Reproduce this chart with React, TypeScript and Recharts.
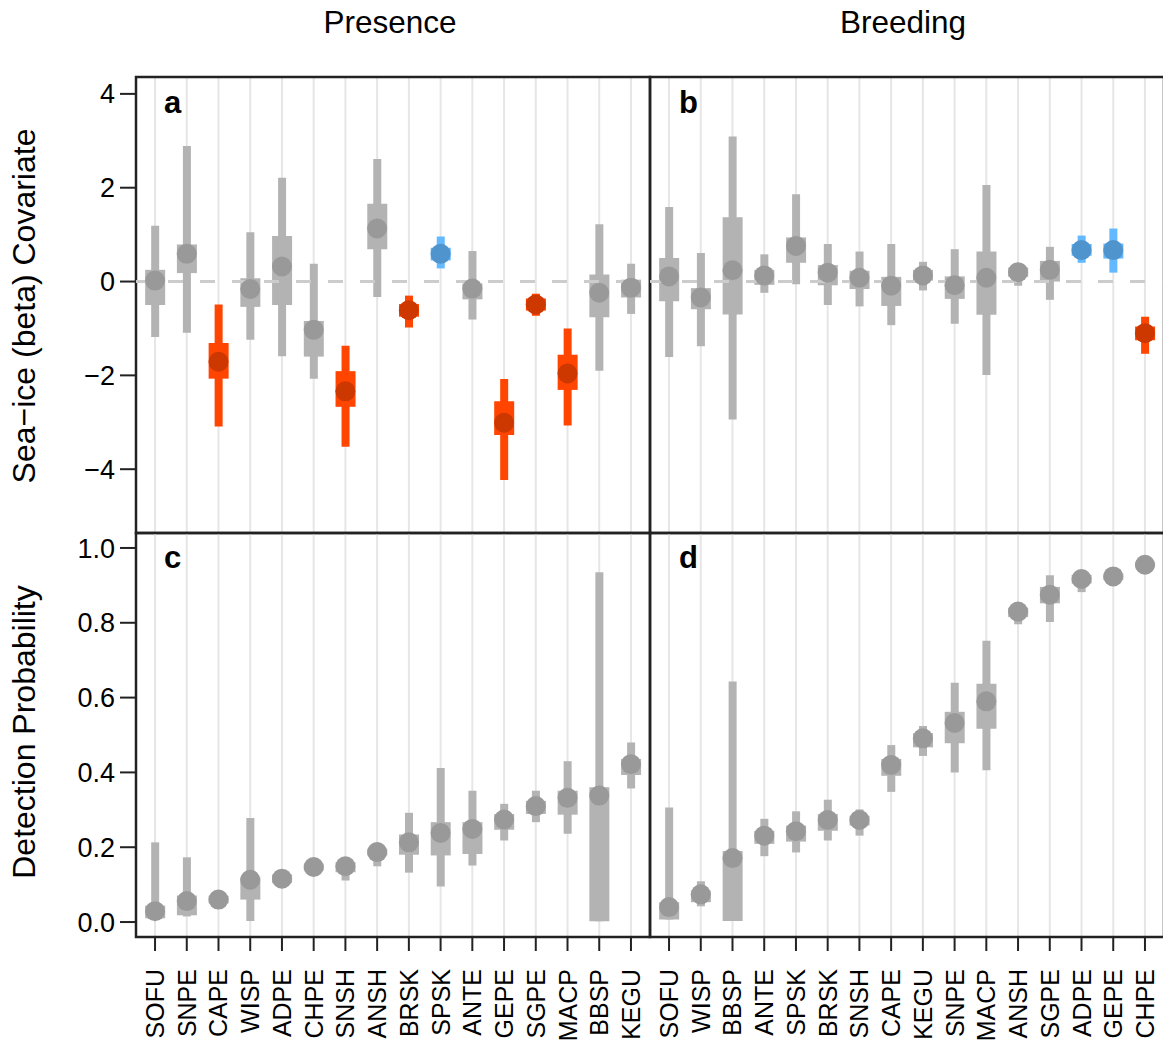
import React from "react";
import {
  ComposedChart,
  XAxis,
  YAxis,
  CartesianGrid,
  Bar,
  Scatter,
  Cell,
  ReferenceLine,
  ReferenceArea,
} from "recharts";

const FONT = '"Liberation Sans", Arial, Helvetica, sans-serif';

// species order along each column
const presenceCodes = ["SOFU", "SNPE", "CAPE", "WISP", "ADPE", "CHPE", "SNSH", "ANSH", "BRSK", "SPSK", "ANTE", "GEPE", "SGPE", "MACP", "BBSP", "KEGU"];
const breedingCodes = ["SOFU", "WISP", "BBSP", "ANTE", "SPSK", "BRSK", "SNSH", "CAPE", "KEGU", "SNPE", "MACP", "ANSH", "SGPE", "ADPE", "GEPE", "CHPE"];

// sea-ice covariate (beta), presence model: posterior mean, 50% and 95% intervals
const presBetaMean = [0.02, 0.59, -1.71, -0.16, 0.32, -1.03, -2.34, 1.13, -0.61, 0.59, -0.15, -3.01, -0.49, -1.96, -0.24, -0.13];
const presBetaLo50 = [-0.5, 0.18, -2.07, -0.54, -0.5, -1.6, -2.67, 0.69, -0.75, 0.45, -0.38, -3.27, -0.62, -2.31, -0.76, -0.34];
const presBetaHi50 = [0.25, 0.79, -1.31, 0.07, 0.97, -0.84, -1.91, 1.66, -0.48, 0.72, -0.04, -2.55, -0.36, -1.56, 0.15, 0.04];
const presBetaLo95 = [-1.18, -1.09, -3.09, -1.24, -1.59, -2.07, -3.52, -0.33, -0.98, 0.28, -0.81, -4.23, -0.73, -3.07, -1.9, -0.69];
const presBetaHi95 = [1.19, 2.89, -0.49, 1.05, 2.21, 0.38, -1.37, 2.61, -0.3, 0.96, 0.65, -2.08, -0.26, -1.0, 1.22, 0.38];

// sea-ice covariate (beta), breeding model
const breedBetaMean = [0.11, -0.34, 0.24, 0.13, 0.76, 0.19, 0.08, -0.09, 0.13, -0.08, 0.08, 0.2, 0.25, 0.67, 0.67, -1.1];
const breedBetaLo50 = [-0.42, -0.59, -0.7, -0.07, 0.4, -0.08, -0.16, -0.52, 0.02, -0.37, -0.71, 0.1, 0.0, 0.55, 0.49, -1.25];
const breedBetaHi50 = [0.5, -0.14, 1.37, 0.25, 0.94, 0.35, 0.23, 0.1, 0.25, 0.11, 0.64, 0.3, 0.44, 0.8, 0.81, -0.96];
const breedBetaLo95 = [-1.61, -1.38, -2.94, -0.24, -0.06, -0.5, -0.53, -0.93, -0.19, -0.9, -1.99, -0.09, -0.39, 0.4, 0.19, -1.54];
const breedBetaHi95 = [1.59, 0.61, 3.09, 0.58, 1.86, 0.8, 0.64, 0.8, 0.42, 0.69, 2.06, 0.39, 0.74, 0.98, 1.13, -0.75];

// detection probability, presence model
const presDetMean = [0.029, 0.056, 0.06, 0.113, 0.116, 0.147, 0.149, 0.187, 0.213, 0.238, 0.249, 0.274, 0.31, 0.332, 0.338, 0.422];
const presDetLo50 = [0.01, 0.018, 0.05, 0.06, 0.105, 0.138, 0.133, 0.178, 0.18, 0.178, 0.182, 0.247, 0.289, 0.287, 0.002, 0.393];
const presDetHi50 = [0.044, 0.071, 0.07, 0.12, 0.127, 0.156, 0.16, 0.196, 0.234, 0.267, 0.267, 0.289, 0.324, 0.351, 0.36, 0.436];
const presDetLo95 = [0.007, 0.015, 0.045, 0.003, 0.1, 0.13, 0.111, 0.149, 0.132, 0.095, 0.151, 0.218, 0.267, 0.236, 0.002, 0.357];
const presDetHi95 = [0.213, 0.173, 0.075, 0.278, 0.132, 0.162, 0.17, 0.205, 0.292, 0.412, 0.351, 0.316, 0.351, 0.43, 0.935, 0.48];

// detection probability, breeding model
const breedDetMean = [0.04, 0.074, 0.171, 0.231, 0.243, 0.273, 0.273, 0.42, 0.491, 0.532, 0.59, 0.83, 0.875, 0.917, 0.924, 0.955];
const breedDetLo50 = [0.007, 0.053, 0.003, 0.209, 0.215, 0.244, 0.258, 0.391, 0.467, 0.478, 0.517, 0.815, 0.852, 0.905, 0.915, 0.948];
const breedDetHi50 = [0.053, 0.084, 0.19, 0.244, 0.258, 0.289, 0.284, 0.436, 0.505, 0.562, 0.637, 0.84, 0.896, 0.928, 0.932, 0.962];
const breedDetLo95 = [0.007, 0.042, 0.003, 0.176, 0.186, 0.218, 0.231, 0.348, 0.444, 0.4, 0.406, 0.796, 0.802, 0.882, 0.905, 0.94];
const breedDetHi95 = [0.306, 0.109, 0.643, 0.276, 0.296, 0.327, 0.301, 0.473, 0.524, 0.64, 0.752, 0.85, 0.927, 0.935, 0.94, 0.966];

const betaTicks = [-4, -2, 0, 2, 4];
const detTicks = [0, 0.2, 0.4, 0.6, 0.8, 1.0];

// R-style 4% padding around the data ranges
const X_DOMAIN: [number, number] = [0.4, 16.6];
const BETA_DOMAIN: [number, number] = [-5.36, 4.36];
const DET_DOMAIN: [number, number] = [-0.04, 1.04];

type Tone = "ns" | "neg" | "pos";

const palette: Record<Tone, { bar: string; dot: string }> = {
  ns: { bar: "#b3b3b3", dot: "#999999" },
  neg: { bar: "#ff4500", dot: "#cd3700" },
  pos: { bar: "#63b8ff", dot: "#4f94cd" },
};

type Row = {
  x: number;
  code: string;
  mean: number;
  inner: [number, number];
  outer: [number, number];
  tone: Tone;
};

function buildRows(
  codes: string[],
  mean: number[],
  lo50: number[],
  hi50: number[],
  lo95: number[],
  hi95: number[],
  flagSign: boolean
): Row[] {
  return codes.map((code, i) => {
    let tone: Tone = "ns";
    // colour the species whose 95% interval excludes zero
    if (flagSign && lo95[i] > 0) tone = "pos";
    if (flagSign && hi95[i] < 0) tone = "neg";
    return {
      x: i + 1,
      code,
      mean: mean[i],
      inner: [lo50[i], hi50[i]],
      outer: [lo95[i], hi95[i]],
      tone,
    };
  });
}

const xTicks = presenceCodes.map((_, i) => i + 1);

const fmtBeta = (v: number) => (v < 0 ? "\u2212" + Math.abs(v) : String(v));
const fmtDet = (v: number) => v.toFixed(1);

function SpeciesTick(props: any) {
  const { x, y, payload, codes } = props;
  const label = codes[payload.value - 1];
  return (
    <text
      x={x}
      y={y}
      transform={`rotate(-90 ${x} ${y})`}
      textAnchor="end"
      dy="0.36em"
      fontSize={25}
      fontFamily={FONT}
      fill="#000"
    >
      {label}
    </text>
  );
}

// top row has no category labels, but still needs the ticks for the grid
function NoTick() {
  return <g />;
}

function Dot(props: any) {
  const { cx, cy, payload } = props;
  if (cx == null || cy == null) return null;
  return <circle cx={cx} cy={cy} r={10} fill={palette[payload.tone as Tone].dot} />;
}

type PanelProps = {
  rows: Row[];
  codes: string[];
  left: number;
  top: number;
  width: number;
  height: number;
  margin: { top: number; right: number; bottom: number; left: number };
  yDomain: [number, number];
  yTicks: number[];
  yFormat: (v: number) => string;
  showY: boolean;
  showX: boolean;
  zeroLine: boolean;
};

function Panel({ rows, codes, left, top, width, height, margin, yDomain, yTicks, yFormat, showY, showX, zeroLine }: PanelProps) {
  const cells = rows.map((r) => <Cell key={r.code} fill={palette[r.tone].bar} />);
  return (
    <div style={{ position: "absolute", left, top }}>
      <ComposedChart width={width} height={height} data={rows} margin={margin}>
        <CartesianGrid horizontal={false} stroke="#e6e6e6" strokeWidth={2} />
        <XAxis
          dataKey="x"
          type="number"
          domain={X_DOMAIN}
          ticks={xTicks}
          interval={0}
          allowDataOverflow
          height={showX ? 109 : 1}
          axisLine={false}
          tickSize={showX ? 14 : 0}
          tickMargin={18}
          tickLine={showX ? { stroke: "#222", strokeWidth: 2 } : false}
          tick={showX ? <SpeciesTick codes={codes} /> : <NoTick />}
        />
        <XAxis xAxisId="outer" dataKey="x" type="number" domain={X_DOMAIN} allowDataOverflow hide />
        <XAxis xAxisId="inner" dataKey="x" type="number" domain={X_DOMAIN} allowDataOverflow hide />
        <YAxis
          type="number"
          domain={yDomain}
          ticks={yTicks}
          interval={0}
          allowDataOverflow
          hide={!showY}
          width={136}
          axisLine={false}
          tickSize={16}
          tickMargin={5}
          tickLine={{ stroke: "#222", strokeWidth: 2 }}
          tick={{ fontSize: 27, fill: "#000", fontFamily: FONT }}
          tickFormatter={yFormat}
        />
        {zeroLine && (
          <ReferenceLine y={0} stroke="#cccccc" strokeWidth={3} strokeDasharray="15 17" />
        )}
        <Bar xAxisId="outer" dataKey="outer" barSize={8} isAnimationActive={false}>
          {cells}
        </Bar>
        <Bar xAxisId="inner" dataKey="inner" barSize={20} isAnimationActive={false}>
          {cells}
        </Bar>
        <Scatter dataKey="mean" shape={<Dot />} isAnimationActive={false} />
        <ReferenceArea
          x1={X_DOMAIN[0]}
          x2={X_DOMAIN[1]}
          y1={yDomain[0]}
          y2={yDomain[1]}
          ifOverflow="visible"
          fill="none"
          fillOpacity={0}
          stroke="#222"
          strokeWidth={2.5}
        />
      </ComposedChart>
    </div>
  );
}

export default function App() {
  const presBeta = buildRows(presenceCodes, presBetaMean, presBetaLo50, presBetaHi50, presBetaLo95, presBetaHi95, true);
  const breedBeta = buildRows(breedingCodes, breedBetaMean, breedBetaLo50, breedBetaHi50, breedBetaLo95, breedBetaHi95, true);
  const presDet = buildRows(presenceCodes, presDetMean, presDetLo50, presDetHi50, presDetLo95, presDetHi95, false);
  const breedDet = buildRows(breedingCodes, breedDetMean, breedDetLo50, breedDetHi50, breedDetLo95, breedDetHi95, false);

  const topMargin = { top: 77, right: 10, bottom: 11, left: 0 };
  const bottomMargin = { top: 13, right: 10, bottom: 0, left: 0 };
  const topMarginR = { top: 77, right: 11, bottom: 11, left: 10 };
  const bottomMarginR = { top: 13, right: 11, bottom: 0, left: 10 };

  return (
    <div
      style={{
        position: "absolute",
        left: 0,
        top: 0,
        width: 1163,
        height: 1046,
        overflow: "hidden",
        background: "#fff",
        fontFamily: FONT,
      }}
    >
      <Panel rows={presBeta} codes={presenceCodes} left={0} top={0} width={660} height={545} margin={topMargin}
        yDomain={BETA_DOMAIN} yTicks={betaTicks} yFormat={fmtBeta} showY showX={false} zeroLine />
      <Panel rows={breedBeta} codes={breedingCodes} left={640} top={0} width={535} height={545} margin={topMarginR}
        yDomain={BETA_DOMAIN} yTicks={betaTicks} yFormat={fmtBeta} showY={false} showX={false} zeroLine />
      <Panel rows={presDet} codes={presenceCodes} left={0} top={520} width={660} height={526} margin={bottomMargin}
        yDomain={DET_DOMAIN} yTicks={detTicks} yFormat={fmtDet} showY showX zeroLine={false} />
      <Panel rows={breedDet} codes={breedingCodes} left={640} top={520} width={535} height={526} margin={bottomMarginR}
        yDomain={DET_DOMAIN} yTicks={detTicks} yFormat={fmtDet} showY={false} showX zeroLine={false} />

      {/* column titles, axis titles and panel letters */}
      <svg width={1163} height={1046} style={{ position: "absolute", left: 0, top: 0, pointerEvents: "none" }}>
        <g fontFamily={FONT} fill="#000">
          <text x={390} y={33} fontSize={31.5} textAnchor="middle">Presence</text>
          <text x={903} y={33} fontSize={31.5} textAnchor="middle">Breeding</text>
          <text transform="translate(35,306) rotate(-90)" fontSize={32} textAnchor="middle">Sea{"\u2212"}ice (beta) Covariate</text>
          <text transform="translate(35,732) rotate(-90)" fontSize={32} textAnchor="middle">Detection Probability</text>
          <text x={164} y={113} fontSize={31} fontWeight="bold">a</text>
          <text x={679} y={113} fontSize={31} fontWeight="bold">b</text>
          <text x={164} y={568} fontSize={31} fontWeight="bold">c</text>
          <text x={679} y={568} fontSize={31} fontWeight="bold">d</text>
        </g>
      </svg>
    </div>
  );
}
